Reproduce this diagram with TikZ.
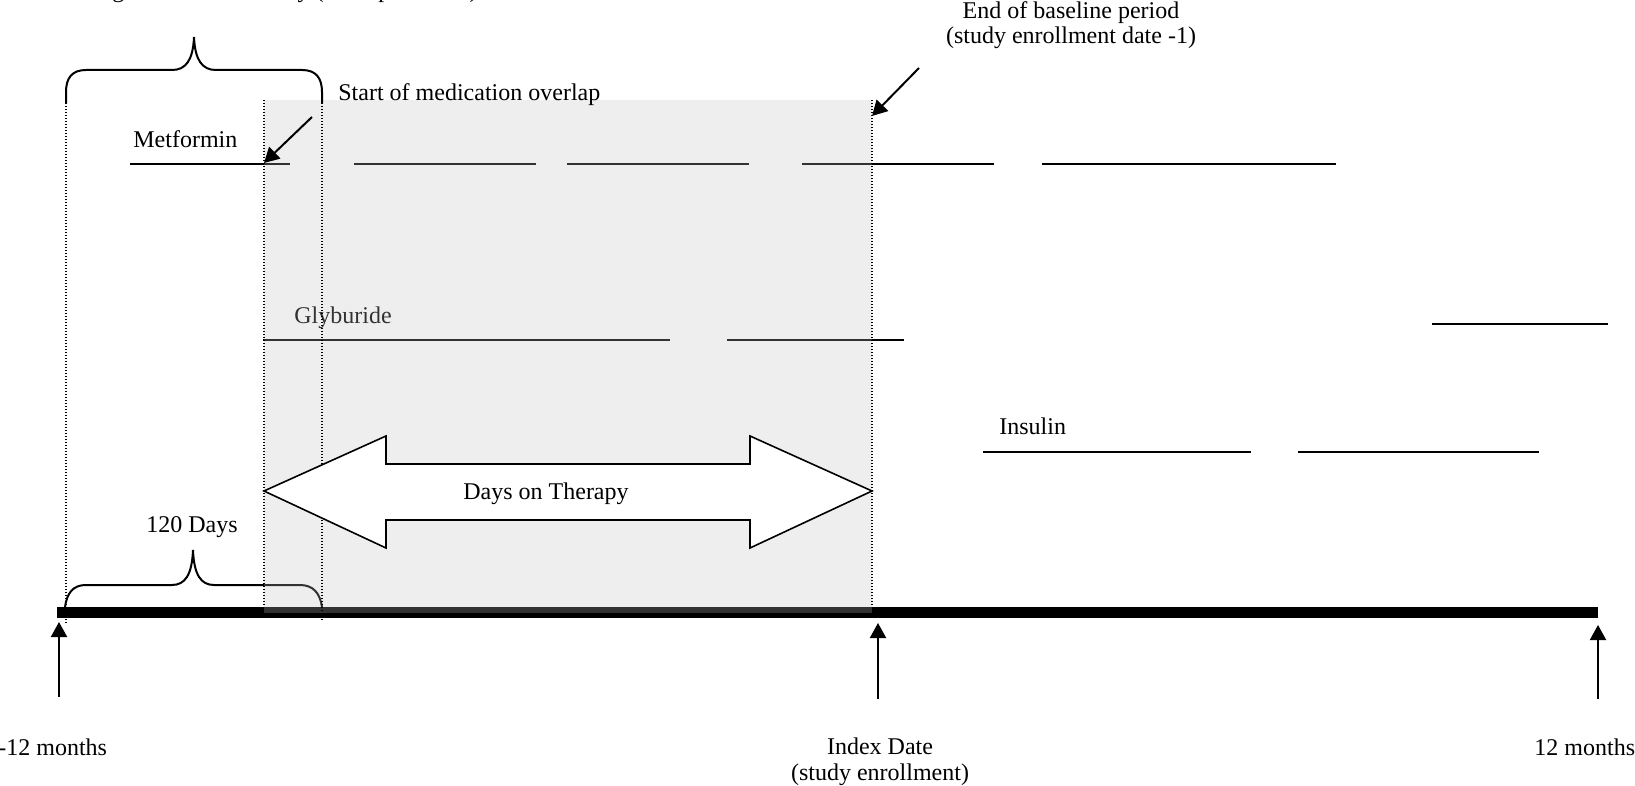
\documentclass[tikz,border=0pt]{standalone}
\usepackage{fontspec}
\setmainfont{Liberation Serif}
\usetikzlibrary{arrows.meta}
\begin{document}
\begin{tikzpicture}[x=0.5pt,y=-0.5pt,
  lbl/.style={inner sep=0pt, anchor=base west, font=\fontsize{12}{14.4}\selectfont},
  lblc/.style={lbl, anchor=base},
  drugline/.style={line width=1pt},
  guide/.style={line width=0.7pt, dash pattern=on 0.7pt off 0.8pt},
  brace/.style={line width=1pt},
  pointer/.style={line width=1pt, -{Triangle[length=7.5pt,width=8pt]}},
  shade/.style={fill=black!25, fill opacity=0.267},
  bigarrow/.style={draw, line width=0.8pt, fill=white, line join=miter}
]
\useasboundingbox (0,0) rectangle (1635,786);

% heading line, running off the top edge
\node[lbl] (head) at (8,-2) {Pre-existing medication history (lookup interval)};

% Metformin fills
\node[lbl] (met) at (133,148) {Metformin};
\draw[drugline] (130,164) -- (290,164);
\draw[drugline] (354,164) -- (536,164);
\draw[drugline] (567,164) -- (749,164);
\draw[drugline] (802,164) -- (994,164);
\draw[drugline] (1042,164) -- (1336,164);

% Glyburide fills
\node[lbl] (gly) at (294,324) {Glyburide};
\draw[drugline] (263,340) -- (670,340);
\draw[drugline] (727,340) -- (904,340);
\draw[drugline] (1432,324) -- (1608,324);

% Insulin fills
\node[lbl] (ins) at (999,435) {Insulin};
\draw[drugline] (983,452) -- (1251,452);
\draw[drugline] (1298,452) -- (1539,452);

% time axis
\fill[black] (57,607) rectangle (1598,618);

% lower brace: 120 days
\draw[brace] (65,607) .. controls (67,593) and (73,585) .. (86,585) -- (172,585)
  .. controls (185,585) and (192,575) .. (193,550)
  .. controls (194,575) and (201,585) .. (214,585) -- (300,585)
  .. controls (313,585) and (320,593) .. (322,607);
\node[lblc] (days120) at (192,532) {120 Days};

% baseline window between overlap start and enrollment
\fill[shade] (264,100) rectangle (872,613);

% dotted guides
\draw[guide] (66,103) -- (66,623);
\draw[guide] (264,100) -- (264,607);
\draw[guide] (322,103) -- (322,620);
\draw[guide] (872,100) -- (872,607);

% upper brace
\draw[brace] (66,103) -- (66,92) .. controls (66,78) and (72,70) .. (86,70) -- (172,70)
  .. controls (186,70) and (193,60) .. (194,37)
  .. controls (195,60) and (202,70) .. (216,70) -- (302,70)
  .. controls (316,70) and (322,78) .. (322,92) -- (322,103);

% days on therapy
\draw[bigarrow] (264,491) -- (386,436) -- (386,464) -- (750,464) -- (750,436)
  -- (872,491) -- (750,548) -- (750,520) -- (386,520) -- (386,548) -- cycle;
\node[lblc] (dot) at (546,500) {Days on Therapy};

% overlap start
\node[lbl] (ovl) at (338,101) {Start of medication overlap};
\coordinate (ovlFrom) at (312,117);
\coordinate (ovlTo) at (264,163);
\draw[pointer] (ovlFrom) -- (ovlTo);

% end of baseline
\node[lblc] (endb) at (1071,19) {End of baseline period};
\node[lblc] (endb2) at (1071,44) {(study enrollment date -1)};
\coordinate (endFrom) at (919,68);
\coordinate (endTo) at (872,116);
\draw[pointer] (endFrom) -- (endTo);

% axis markers
\coordinate (m1a) at (59,697);
\coordinate (m1b) at (59,622);
\coordinate (m2a) at (878,699);
\coordinate (m2b) at (878,623);
\coordinate (m3a) at (1598,699);
\coordinate (m3b) at (1598,625);
\draw[pointer] (m1a) -- (m1b);
\draw[pointer] (m2a) -- (m2b);
\draw[pointer] (m3a) -- (m3b);

\node[lbl] (lm12) at (-2,755) {-12 months};
\node[lblc] (lidx) at (880,754) {Index Date};
\node[lblc] (lidx2) at (880,780) {(study enrollment)};
\node[lbl] (lp12) at (1534,755) {12 months};
\end{tikzpicture}
\end{document}
